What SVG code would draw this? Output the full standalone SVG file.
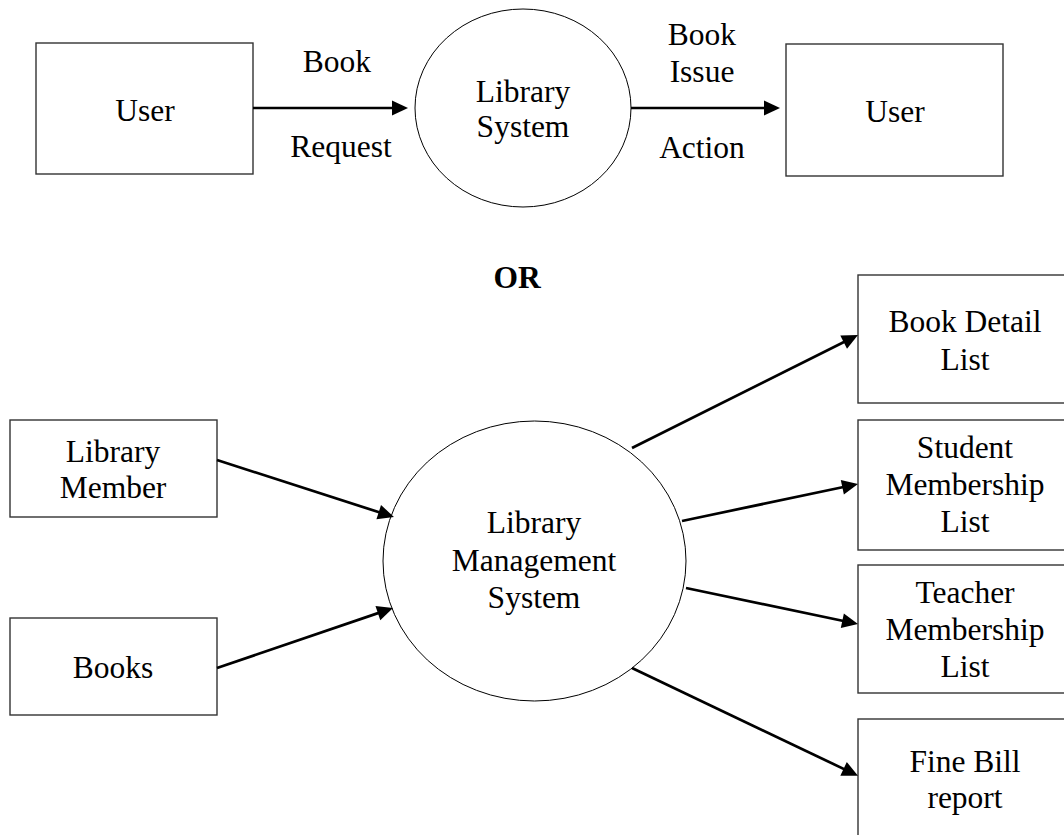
<svg xmlns="http://www.w3.org/2000/svg" width="1064" height="835" viewBox="0 0 1064 835">
  <style>
    .box { fill: #ffffff; stroke: #333333; stroke-width: 1.4; }
    .proc { fill: #ffffff; stroke: #000000; stroke-width: 1; }
    .lbl { font-family: "Liberation Serif", "Times New Roman", serif; font-size: 31.5px; fill: #000000; text-anchor: middle; }
    .bold { font-weight: bold; }
    .flow { stroke: #000000; stroke-width: 2.7; fill: none; marker-end: url(#head); }
  </style>
  <defs>
    <marker id="head" markerUnits="userSpaceOnUse" markerWidth="16" markerHeight="15" refX="11" refY="7.5" orient="auto" overflow="visible">
      <path d="M0,0 L16,7.5 L0,15 Z" fill="#000000"/>
    </marker>
  </defs>
  <rect width="1064" height="835" fill="#ffffff"/>

  <!-- context diagram: user request and issue -->
  <g id="user-left">
    <rect class="box" x="36" y="43" width="217" height="131"/>
    <text class="lbl" x="145" y="121">User</text>
  </g>
  <g id="library-system">
    <ellipse class="proc" cx="523" cy="108" rx="108" ry="99"/>
    <text class="lbl" x="523" y="102">Library</text>
    <text class="lbl" x="523" y="137">System</text>
  </g>
  <g id="user-right">
    <rect class="box" x="786" y="44" width="217" height="132"/>
    <text class="lbl" x="895" y="122">User</text>
  </g>

  <text id="or-label" class="lbl bold" x="517" y="288">OR</text>

  <!-- level-0 diagram: library management system -->
  <g id="library-member">
    <rect class="box" x="10" y="420" width="207" height="97"/>
    <text class="lbl" x="113" y="462">Library</text>
    <text class="lbl" x="113" y="498">Member</text>
  </g>
  <g id="books">
    <rect class="box" x="10" y="618" width="207" height="97"/>
    <text class="lbl" x="113" y="678">Books</text>
  </g>
  <g id="library-management-system">
    <ellipse class="proc" cx="534.5" cy="561" rx="151.5" ry="140"/>
    <text class="lbl" x="534" y="533">Library</text>
    <text class="lbl" x="534" y="571">Management</text>
    <text class="lbl" x="534" y="608">System</text>
  </g>
  <g id="book-detail-list">
    <rect class="box" x="858" y="275" width="220" height="128"/>
    <text class="lbl" x="965" y="332">Book Detail</text>
    <text class="lbl" x="965" y="370">List</text>
  </g>
  <g id="student-membership-list">
    <rect class="box" x="858" y="420" width="220" height="130"/>
    <text class="lbl" x="965" y="458">Student</text>
    <text class="lbl" x="965" y="495">Membership</text>
    <text class="lbl" x="965" y="532">List</text>
  </g>
  <g id="teacher-membership-list">
    <rect class="box" x="858" y="565" width="220" height="128"/>
    <text class="lbl" x="965" y="603">Teacher</text>
    <text class="lbl" x="965" y="640">Membership</text>
    <text class="lbl" x="965" y="677">List</text>
  </g>
  <g id="fine-bill-report">
    <rect class="box" x="858" y="719" width="220" height="130"/>
    <text class="lbl" x="965" y="772">Fine Bill</text>
    <text class="lbl" x="965" y="808">report</text>
  </g>

  <g id="connectors">
    <line class="flow" x1="253" y1="108" x2="403" y2="108"/>
    <text class="lbl" x="337" y="72">Book</text>
    <text class="lbl" x="341" y="157">Request</text>

    <line class="flow" x1="631" y1="108" x2="775" y2="108"/>
    <text class="lbl" x="702" y="45">Book</text>
    <text class="lbl" x="702" y="82">Issue</text>
    <text class="lbl" x="702" y="158">Action</text>

    <line class="flow" x1="217" y1="460" x2="389.2" y2="515.5"/>
    <line class="flow" x1="217" y1="668" x2="388.3" y2="609.6"/>
    <line class="flow" x1="632" y1="448" x2="853.5" y2="337.2"/>
    <line class="flow" x1="682" y1="521" x2="853.1" y2="485"/>
    <line class="flow" x1="686" y1="588" x2="853.1" y2="623"/>
    <line class="flow" x1="632" y1="668" x2="853.5" y2="773.6"/>
  </g>
</svg>
